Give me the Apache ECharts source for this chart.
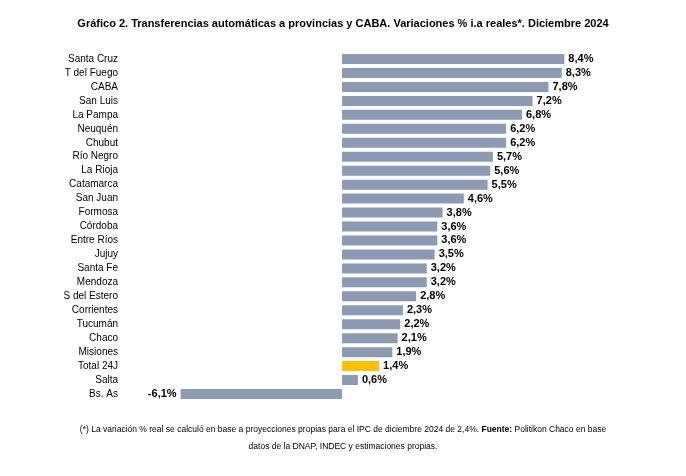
<!DOCTYPE html>
<html><head><meta charset="utf-8">
<script src="https://cdn.jsdelivr.net/npm/echarts@6/dist/echarts.min.js"></script>
<style>body{margin:0;background:#fff}#c{width:686px;height:476px}</style>
</head><body><div id="c"></div>
<script>
var categories = ['Santa Cruz','T del Fuego','CABA','San Luis','La Pampa','Neuquén','Chubut','Río Negro','La Rioja','Catamarca','San Juan','Formosa','Córdoba','Entre Ríos','Jujuy','Santa Fe','Mendoza','S del Estero','Corrientes','Tucumán','Chaco','Misiones','Total 24J','Salta','Bs. As'];
var values = [8.4,8.3,7.8,7.2,6.8,6.2,6.2,5.7,5.6,5.5,4.6,3.8,3.6,3.6,3.5,3.2,3.2,2.8,2.3,2.2,2.1,1.9,1.4,0.6,-6.1];

var chart = echarts.init(document.getElementById('c'));
var n = categories.length;
var step = (394 - 59) / (n - 1);
chart.setOption({
    animation: false,
    textStyle: {fontFamily: 'Liberation Sans'},
    title: {
        text: 'Gráfico 2. Transferencias automáticas a provincias y CABA. Variaciones % i.a reales*. Diciembre 2024',
        left: 'center', top: 13,
        textStyle: {fontSize: 11, fontWeight: 'bold', color: '#000'}
    },
    graphic: [
        {type: 'text', left: 'center', top: 425, style: {
            text: '{n|(*) La variación % real se calculó en base a proyecciones propias para el IPC de diciembre 2024 de 2,4%. }{b|Fuente:}{n| Politikon Chaco en base}',
            rich: {n: {fontSize: 8.5, fill: '#000'}, b: {fontSize: 8.5, fontWeight: 'bold', fill: '#000'}}
        }},
        {type: 'text', left: 'center', top: 442, style: {text: 'datos de la DNAP, INDEC y estimaciones propias.', fontSize: 8.5, fill: '#000'}}
    ],
    grid: {left: 170, right: 119, top: 59 - step / 2, height: step * n},
    xAxis: {type: 'value', min: -6.5, max: 8.5, show: false},
    yAxis: {
        type: 'category', data: categories, inverse: true,
        axisLine: {show: false}, axisTick: {show: false},
        axisLabel: {margin: 52, fontSize: 10, color: '#000'}
    },
    series: [{
        type: 'bar', barWidth: 10,
        data: values.map(function(v, i){
            return {
                value: v,
                itemStyle: {color: categories[i] === 'Total 24J' ? '#FFC000' : '#8C9AB4'},
                label: {position: v < 0 ? 'left' : 'right'}
            };
        }),
        label: {
            show: true, fontSize: 11, fontWeight: 'bold', color: '#000', distance: 4,
            formatter: function(p){ return String(p.value).replace('.', ',') + '%'; }
        }
    }]
});
</script></body></html>
